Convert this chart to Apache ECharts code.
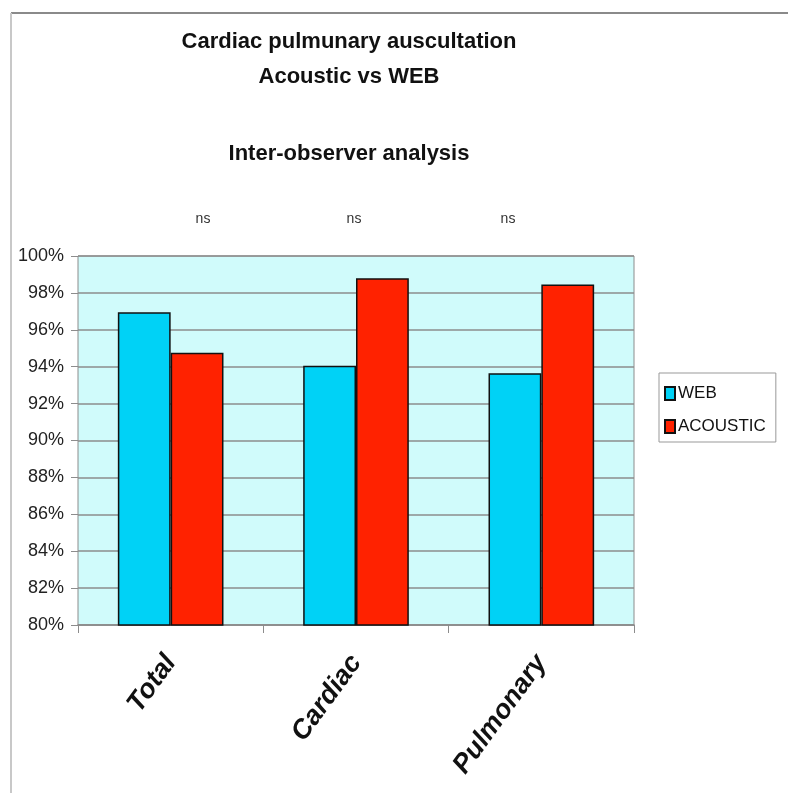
<!DOCTYPE html>
<html>
<head>
<meta charset="utf-8">
<script src="https://cdn.jsdelivr.net/npm/echarts@6/dist/echarts.min.js"></script>
<style>html,body{margin:0;padding:0;background:#fff;}#chart{width:788px;height:793px;}</style>
</head>
<body>
<div id="chart"></div>
<script>
var categories = ['Total', 'Cardiac', 'Pulmonary'];
var webValues = [96.95, 94.05, 93.65];
var acousticValues = [94.75, 98.8, 98.45];
var seriesNames = ['WEB', 'ACOUSTIC'];
var yMin = 80, yMax = 100, yStep = 2;
var titleLines = ['Cardiac pulmunary auscultation', 'Acoustic vs WEB', 'Inter-observer analysis'];
var sigLabels = ['ns', 'ns', 'ns'];

var FONT = '"Liberation Sans", Arial, sans-serif';
var chart = echarts.init(document.getElementById('chart'), null, {renderer: 'canvas'});

var sigX = [203, 354, 508];
var graphics = [
  {type: 'line', shape: {x1: 11, y1: 13, x2: 788, y2: 13}, style: {stroke: '#8a8a8a', lineWidth: 2}, silent: true},
  {type: 'line', shape: {x1: 11, y1: 13, x2: 11, y2: 793}, style: {stroke: '#c8c8c8', lineWidth: 2}, silent: true}
];
sigLabels.forEach(function (t, i) {
  graphics.push({type: 'text', x: sigX[i], y: 219, style: {text: t, font: '14px ' + FONT, fill: '#333', textAlign: 'center', textVerticalAlign: 'middle'}});
});

var titleTops = [26, 61, 138];
chart.setOption({
  animation: false,
  backgroundColor: '#ffffff',
  title: titleLines.map(function (t, i) {
    return {text: t, left: 344, top: titleTops[i], textAlign: 'center',
      textStyle: {fontFamily: FONT, fontSize: 22, fontWeight: 'bold', color: '#111'}};
  }),
  graphic: graphics,
  legend: {
    data: seriesNames,
    orient: 'vertical',
    left: 659, top: 373,
    backgroundColor: '#fff',
    borderColor: '#999', borderWidth: 1,
    padding: [12, 10, 7, 5],
    icon: 'rect',
    itemWidth: 10, itemHeight: 13, itemGap: 16,
    textStyle: {fontFamily: FONT, fontSize: 17, color: '#111', padding: [0, 0, 0, -2]}
  },
  grid: {left: 78, right: 154, top: 256, bottom: 168, show: true, backgroundColor: '#d0fbfb', borderColor: '#8c8c8c', borderWidth: 1},
  xAxis: {
    type: 'category', data: categories,
    axisLine: {lineStyle: {color: '#8c8c8c', width: 1.5}},
    axisTick: {show: true, length: 8, alignWithLabel: false, lineStyle: {color: '#8c8c8c'}},
    axisLabel: {rotate: 54, margin: 33, fontFamily: FONT, fontSize: 27, fontWeight: 'bold', fontStyle: 'italic', color: '#111'}
  },
  yAxis: {
    type: 'value', min: yMin, max: yMax, interval: yStep,
    axisLine: {show: false},
    axisTick: {show: true, length: 7, lineStyle: {color: '#8c8c8c'}},
    splitLine: {lineStyle: {color: '#8c8c8c', width: 1.5}},
    axisLabel: {margin: 14, formatter: '{value}%', fontFamily: FONT, fontSize: 18, color: '#222'}
  },
  series: [
    {name: seriesNames[0], type: 'bar', data: webValues, barGap: '0%', barCategoryGap: '43%',
      itemStyle: {color: '#00d2f6', borderColor: '#111', borderWidth: 1.5}},
    {name: seriesNames[1], type: 'bar', data: acousticValues, barGap: '0%', barCategoryGap: '43%',
      itemStyle: {color: '#ff2200', borderColor: '#111', borderWidth: 1.5}}
  ]
});
</script>
</body>
</html>
